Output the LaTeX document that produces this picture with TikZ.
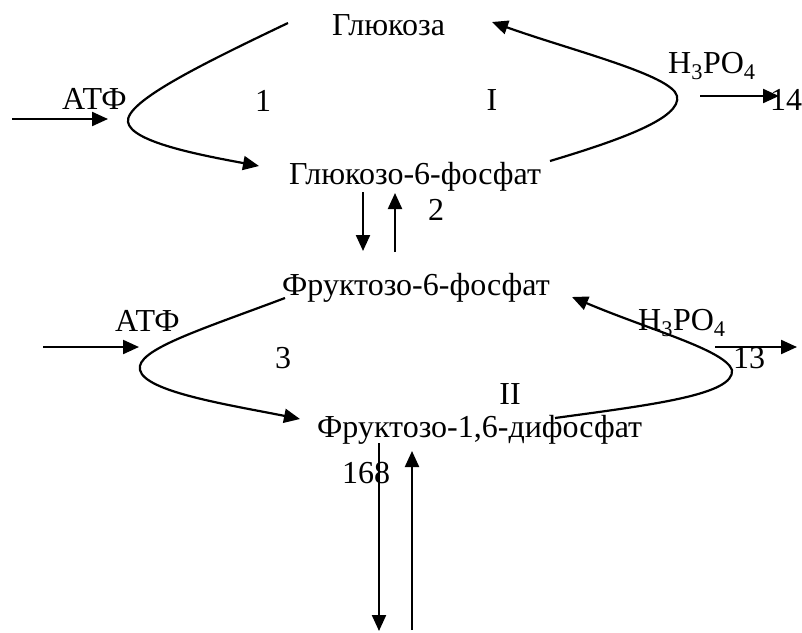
\documentclass[tikz,border=0pt]{standalone}
\usepackage{fontspec}
\setmainfont{Liberation Serif}
\usetikzlibrary{arrows.meta}
\begin{document}
\begin{tikzpicture}[x=1pt,y=-1pt,
  lbl/.style={inner sep=0pt,anchor=base west,font=\fontsize{32}{36}\selectfont},
  conn/.style={line width=2.2pt,-{Triangle[length=16pt,width=14pt]}}]
\useasboundingbox (0,0) rectangle (802,632);
% texts
\node[lbl] (glc) at (332,35) {Глюкоза};
\node[lbl] (atf1) at (62,109) {АТФ};
\node[lbl,anchor=base] (n1) at (263,111) {1};
\node[lbl,anchor=base] (r1) at (492,110) {I};
\node[lbl] (h1) at (668,73) {H\textsubscript{3}PO\textsubscript{4}};
\node[lbl] (n14) at (770,110) {14};
\node[lbl] (g6p) at (289,184) {Глюкозо-6-фосфат};
\node[lbl] (n2) at (428,220) {2};
\node[lbl] (f6p) at (282,295) {Фруктозо-6-фосфат};
\node[lbl] (atf2) at (115,331) {АТФ};
\node[lbl,anchor=base] (n3) at (283,368) {3};
\node[lbl] (h2) at (638,330) {H\textsubscript{3}PO\textsubscript{4}};
\node[lbl] (n13) at (733,368) {13};
\node[lbl,anchor=base] (r2) at (510,404) {II};
\node[lbl] (fdp) at (317,437) {Фруктозо-1,6-дифосфат};
\node[lbl] (n168) at (342,483) {168};
% coordinates
\coordinate (a1s) at (12,119);  \coordinate (a1e) at (108,119);
\coordinate (c1s) at (288,23);  \coordinate (c1t) at (128,122); \coordinate (c1e) at (259,166);
\coordinate (cIs) at (550,161); \coordinate (cIt) at (677,96);  \coordinate (cIe) at (492,22);
\coordinate (a14s) at (700,96); \coordinate (a14e) at (779,96);
\coordinate (d1s) at (363,192); \coordinate (d1e) at (363,251);
\coordinate (u1s) at (395,252); \coordinate (u1e) at (395,193);
\coordinate (a2s) at (43,347);  \coordinate (a2e) at (139,347);
\coordinate (c3s) at (285,298); \coordinate (c3t) at (140,370); \coordinate (c3e) at (300,419);
\coordinate (cIIs) at (555,418);\coordinate (cIIt) at (732,370);\coordinate (cIIe) at (572,297);
\coordinate (a13s) at (715,347);\coordinate (a13e) at (797,347);
\coordinate (d2s) at (379,443); \coordinate (d2e) at (379,631);
\coordinate (u2s) at (412,630); \coordinate (u2e) at (412,451);
% connectors
\draw[conn] (a1s) -- (a1e);
\draw[conn] (c1s) .. controls (200,65) and (125,102) .. (c1t) .. controls (131,142) and (200,155) .. (c1e);
\draw[conn] (cIs) .. controls (620,140) and (682,118) .. (cIt) .. controls (672,75) and (570,50) .. (cIe);
\draw[conn] (a14s) -- (a14e);
\draw[conn] (d1s) -- (d1e);
\draw[conn] (u1s) -- (u1e);
\draw[conn] (a2s) -- (a2e);
\draw[conn] (c3s) .. controls (200,330) and (135,350) .. (c3t) .. controls (145,392) and (230,405) .. (c3e);
\draw[conn] (cIIs) .. controls (650,405) and (735,395) .. (cIIt) .. controls (725,350) and (650,330) .. (cIIe);
\draw[conn] (a13s) -- (a13e);
\draw[conn] (d2s) -- (d2e);
\draw[conn] (u2s) -- (u2e);
\end{tikzpicture}
\end{document}
